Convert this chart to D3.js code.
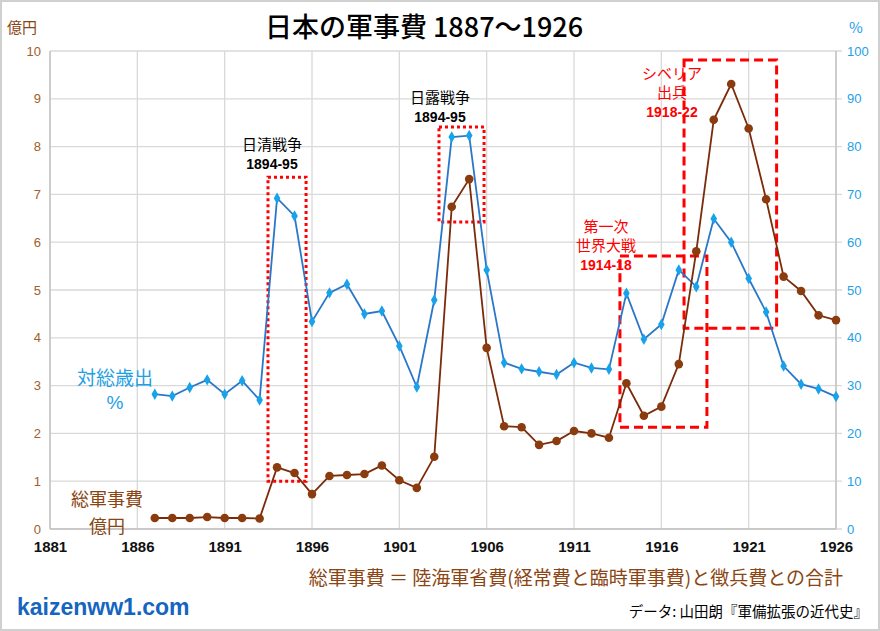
<!DOCTYPE html>
<html><head><meta charset="utf-8">
<script src="https://cdn.jsdelivr.net/npm/d3@7"></script>
<style>
html,body{margin:0;padding:0;background:#fff;}
svg{display:block;}
text{font-family:"Noto Sans CJK JP","Noto Sans",sans-serif;}
</style></head>
<body>
<svg id="c" width="880" height="631"></svg>
<script>
const years = d3.range(1887, 1927);
const spending = [0.23,0.23,0.23,0.25,0.23,0.23,0.22,1.29,1.17,0.73,
  1.11,1.13,1.15,1.33,1.02,0.86,1.51,6.74,7.32,3.79,
  2.15,2.13,1.76,1.84,2.05,2.00,1.91,3.05,2.37,2.56,
  3.45,5.81,8.56,9.31,8.38,6.90,5.28,4.98,4.47,4.37];
const percent = [28.2,27.8,29.6,31.2,28.2,31.0,27.0,69.2,65.5,43.4,
  49.4,51.2,45.0,45.6,38.3,29.7,47.9,82.0,82.3,54.2,
  34.8,33.5,32.9,32.3,34.8,33.7,33.4,49.3,39.7,42.8,
  54.2,50.7,64.9,60.0,52.4,45.4,34.1,30.3,29.3,27.7];
const xTicks = [1881,1886,1891,1896,1901,1906,1911,1916,1921,1926];
const leftTicks = d3.range(0, 11, 1);
const rightTicks = d3.range(0, 101, 10);
const events = [
  {label:["日清戦争","1894-95"], x0:1893.48, x1:1895.66, y0:1.0, y1:7.36, style:"dot", color:"#000"},
  {label:["日露戦争","1894-95"], x0:1903.27, x1:1905.85, y0:6.42, y1:8.41, style:"dot", color:"#000"},
  {label:["第一次","世界大戦","1914-18"], x0:1913.63, x1:1918.61, y0:2.13, y1:5.71, style:"dash", color:"#ff0000"},
  {label:["シベリア","出兵","1918-22"], x0:1917.3, x1:1922.6, y0:4.2, y1:9.81, style:"dash", color:"#ff0000"}
];

const svg = d3.select("#c");
const L = 50, R = 836, T = 51, B = 529;
const x = d3.scaleLinear().domain([1881,1926]).range([L,R]);
const yL = d3.scaleLinear().domain([0,10]).range([B,T]);
const yR = d3.scaleLinear().domain([0,100]).range([B,T]);

svg.append("rect").attr("x",1).attr("y",1).attr("width",878).attr("height",629)
  .attr("fill","#fff").attr("stroke","#d0d0d0").attr("stroke-width",2);

const g = svg.append("g");
g.selectAll(".hg").data(leftTicks).join("line")
  .attr("x1",L).attr("x2",R+6).attr("y1",d=>yL(d)).attr("y2",d=>yL(d))
  .attr("stroke","#d9d9d9").attr("stroke-width",1.3);
g.selectAll(".vg").data(xTicks).join("line")
  .attr("x1",d=>x(d)).attr("x2",d=>x(d)).attr("y1",T).attr("y2",B)
  .attr("stroke","#d9d9d9").attr("stroke-width",1.3);
g.append("line").attr("x1",L).attr("x2",L).attr("y1",T).attr("y2",B).attr("stroke","#c0c0c0").attr("stroke-width",1.3);
g.append("line").attr("x1",R).attr("x2",R).attr("y1",T).attr("y2",B).attr("stroke","#c0c0c0").attr("stroke-width",1.3);
g.append("line").attr("x1",L).attr("x2",R).attr("y1",B).attr("y2",B).attr("stroke","#c0c0c0").attr("stroke-width",1.3);

const axL = svg.append("g").attr("transform",`translate(${L-6},0)`)
  .call(d3.axisLeft(yL).tickValues(leftTicks).tickSize(0).tickPadding(3).tickFormat(d3.format("d")));
axL.select(".domain").remove();
axL.selectAll("text").attr("fill","#a0602a").style("font-family","Arial,'Liberation Sans',sans-serif").style("font-size","13px");

const axR = svg.append("g").attr("transform",`translate(${R+8},0)`)
  .call(d3.axisRight(yR).tickValues(rightTicks).tickSize(0).tickPadding(3).tickFormat(d3.format("d")));
axR.select(".domain").remove();
axR.selectAll("text").attr("fill","#1ea0e6").style("font-family","Arial,'Liberation Sans',sans-serif").style("font-size","13px");

const axB = svg.append("g").attr("transform",`translate(0,${B})`)
  .call(d3.axisBottom(x).tickValues(xTicks).tickSize(0).tickPadding(12).tickFormat(d3.format("d")));
axB.select(".domain").remove();
axB.selectAll("text").attr("fill","#111").style("font-family","'Liberation Sans Narrow',Arial,sans-serif").style("font-size","15px").style("font-weight","bold");

events.forEach(e=>{
  svg.append("rect").attr("x",x(e.x0)).attr("y",yL(e.y1))
    .attr("width",x(e.x1)-x(e.x0)).attr("height",yL(e.y0)-yL(e.y1))
    .attr("fill","none").attr("stroke","#ff0000")
    .attr("stroke-width",3)
    .attr("stroke-dasharray",e.style==="dot"?"3,3":"9,5");
});

const lineB = d3.line().x((d,i)=>x(years[i])).y(d=>yR(d));
svg.append("path").datum(percent).attr("d",lineB).attr("fill","none").attr("stroke","#2a77c9").attr("stroke-width",1.8);
svg.selectAll(".dm").data(percent).join("path")
  .attr("d",d3.symbol(d3.symbolDiamond,38))
  .attr("transform",(d,i)=>`translate(${x(years[i])},${yR(d)})`)
  .attr("fill","#17a2ea");

const lineS = d3.line().x((d,i)=>x(years[i])).y(d=>yL(d));
svg.append("path").datum(spending).attr("d",lineS).attr("fill","none").attr("stroke","#7b2b0a").attr("stroke-width",1.8);
svg.selectAll(".cm").data(spending).join("circle")
  .attr("cx",(d,i)=>x(years[i])).attr("cy",d=>yL(d)).attr("r",4.3)
  .attr("fill","#8b3c0e");

const evLabelPos = [[272,150],[440,103],[606,232],[672,79]];
events.forEach((e,k)=>{
  const [tx,ty] = evLabelPos[k];
  const t = svg.append("text").attr("x",tx).attr("y",ty).attr("text-anchor","middle").attr("fill",e.color);
  e.label.forEach((s,j)=>{
    const isNum = /^\d/.test(s);
    t.append("tspan").attr("x",tx).attr("y",ty+j*19)
      .style("font-size",isNum?"14px":"15px")
      .style("font-weight",isNum?"bold":"normal")
      .style("font-family",isNum?"'Liberation Sans Narrow',Arial,sans-serif":"'Noto Sans CJK JP',sans-serif")
      .text(s);
  });
});

svg.append("text").attr("x",424).attr("y",37).attr("text-anchor","middle")
  .style("font-size","27px").style("font-weight","500").attr("fill","#000").text("日本の軍事費 1887～1926");

svg.append("text").attr("x",22).attr("y",33).attr("text-anchor","middle").attr("fill","#8b4513").style("font-size","15px").text("億円");
svg.append("text").attr("x",856).attr("y",33).attr("text-anchor","middle").attr("fill","#1ea0e6").style("font-size","15px").text("%");

// series labels
svg.append("text").attr("x",115).attr("y",385).attr("text-anchor","middle").attr("fill","#1ea0e6").style("font-size","19px").text("対総歳出");
svg.append("text").attr("x",115).attr("y",409).attr("text-anchor","middle").attr("fill","#1ea0e6")
  .style("font-family","Arial,'Liberation Sans',sans-serif").style("font-size","19px").text("%");
svg.append("text").attr("x",107).attr("y",506).attr("text-anchor","middle").attr("fill","#8b4513").style("font-size","18px").text("総軍事費");
svg.append("text").attr("x",107).attr("y",532.5).attr("text-anchor","middle").attr("fill","#8b4513").style("font-size","18px").text("億円");

svg.append("text").attr("x",843).attr("y",585).attr("text-anchor","end").attr("fill","#8b4513").style("font-size","19px")
  .text("総軍事費 ＝ 陸海軍省費(経常費と臨時軍事費)と徴兵費との合計");
svg.append("text").attr("x",17).attr("y",615).attr("fill","#1565c0")
  .style("font-family","Arial,'Liberation Sans',sans-serif").style("font-weight","bold").style("font-size","23px")
  .text("kaizenww1.com");
svg.append("text").attr("x",868).attr("y",617).attr("text-anchor","end").attr("fill","#000").style("font-size","14.5px")
  .text("データ: 山田朗『軍備拡張の近代史』");
</script>
</body></html>
